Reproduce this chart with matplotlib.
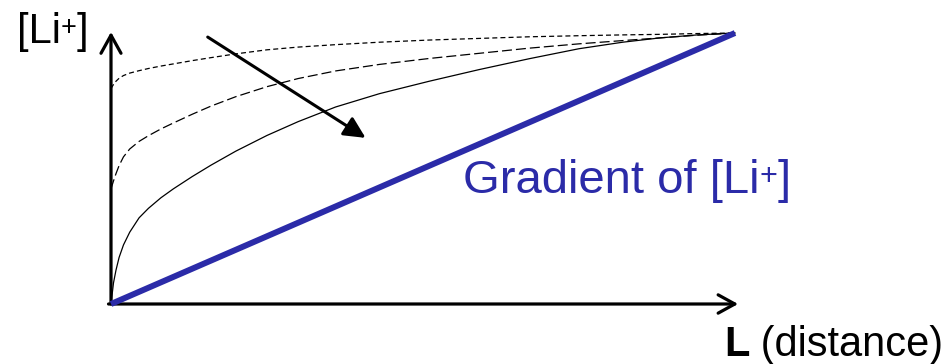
import numpy as np
import matplotlib
matplotlib.use('Agg')
import matplotlib.pyplot as plt

plt.rcParams['font.family'] = ['Liberation Sans', 'DejaVu Sans']

# distance along L (0..1) and normalised [Li+]
dist = [0, 0.004, 0.008, 0.013, 0.02, 0.03, 0.045, 0.06, 0.08, 0.10, 0.13, 0.16,
        0.20, 0.25, 0.30, 0.36, 0.43, 0.51, 0.59, 0.67, 0.75, 0.82, 0.88, 0.94, 1.0]
li_short = [0.795, 0.81, 0.822, 0.833, 0.843, 0.852, 0.861, 0.869, 0.878, 0.886, 0.898, 0.909,
            0.923, 0.938, 0.948, 0.957, 0.966, 0.974, 0.980, 0.986, 0.990, 0.993, 0.995, 0.998, 1.0]
li_long = [0.425, 0.454, 0.481, 0.511, 0.543, 0.572, 0.600, 0.621, 0.646, 0.668, 0.700, 0.730,
           0.765, 0.802, 0.832, 0.860, 0.884, 0.906, 0.925, 0.944, 0.960, 0.972, 0.982, 0.992, 1.0]
li_solid = [0.0, 0.078, 0.125, 0.172, 0.218, 0.265, 0.318, 0.353, 0.392, 0.425, 0.470, 0.512,
            0.564, 0.622, 0.673, 0.727, 0.776, 0.822, 0.865, 0.905, 0.942, 0.966, 0.982, 0.993, 1.0]
grad_x = [0, 1]
grad_y = [0, 1]

BLUE = '#2b2ba8'
W, H = 953, 364

fig = plt.figure(figsize=(W/100, H/100), dpi=100)
ax = fig.add_axes([0, 0, 1, 1])
# origin at pixel (111, 304), 1 unit = 624 px across, 271 px up
ax.set_xlim(-111/624, (W-111)/624)
ax.set_ylim(-60/271, (H-60)/271)
ax.axis('off')

# axes with open arrow heads
ax.annotate('', xy=(0, 1.004), xytext=(0, 0),
            arrowprops=dict(arrowstyle='->, head_length=0.65, head_width=0.36',
                            mutation_scale=20, lw=2.3, color='black',
                            shrinkA=0, shrinkB=0))
ax.annotate('', xy=(1.005, 0), xytext=(-0.004, 0),
            arrowprops=dict(arrowstyle='->, head_length=0.6, head_width=0.33',
                            mutation_scale=20, lw=2.3, color='black',
                            shrinkA=0, shrinkB=0))

ax.plot(dist, li_short, color='black', lw=0.9, dashes=(4, 2.5))
ax.plot(dist, li_long, color='black', lw=0.9, dashes=(8, 3.2))
ax.plot(dist, li_solid, color='black', lw=0.9)
ax.plot(grad_x, grad_y, color=BLUE, lw=4.3, solid_capstyle='butt', zorder=5)

# time arrow
ax.annotate('', xy=(0.408, 0.613), xytext=(0.155, 0.985),
            arrowprops=dict(arrowstyle='-|>, head_length=0.65, head_width=0.32',
                            mutation_scale=20, lw=2.2, color='black',
                            shrinkA=0, shrinkB=0))

renderer = fig.canvas.get_renderer()


def put_parts(x_px, y_px, parts, color='black'):
    # parts: (text, fontsize, raise in px, weight), laid out left to right
    x = x_px
    for s, size, dy, weight in parts:
        t = fig.text(x/W, 1-(y_px-dy)/H, s, fontsize=size, fontweight=weight,
                     color=color, ha='left', va='baseline')
        x += t.get_window_extent(renderer=renderer).width


put_parts(17, 43, [('[Li', 30, 0, 'normal'), ('+', 19.5, 8, 'normal'),
                   (']', 30, 0, 'normal')])
put_parts(463, 193, [('Gradient of [Li', 34, 0, 'normal'), ('+', 22, 8.5, 'normal'),
                     (']', 34, 0, 'normal')], color=BLUE)
put_parts(724, 356, [('L', 30, 0, 'bold'), (' (distance)', 30, 0, 'normal')])

fig.savefig('out.png', dpi=100)
